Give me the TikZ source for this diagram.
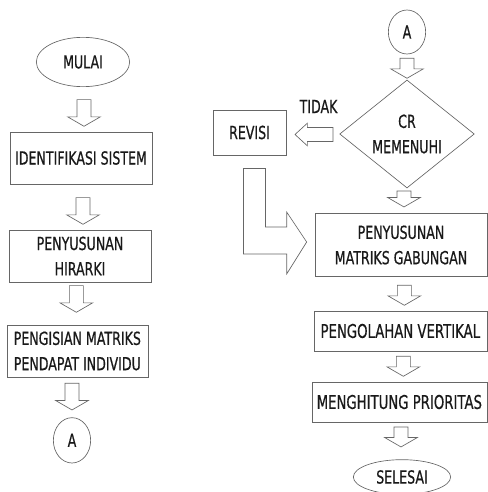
\documentclass[tikz,border=0pt]{standalone}
\usepackage{fontspec}
\setmainfont{DejaVu Sans}[FakeStretch=0.70, FakeBold=0.6]
\usepackage{tikz}
\usetikzlibrary{shapes.geometric, shapes.arrows, calc, positioning}
\newcommand{\flowfont}{\fontsize{13.5}{19}\selectfont}
\newcommand{\flowfontb}{\fontsize{14.2}{19}\selectfont}

\begin{document}
\begin{tikzpicture}[x=0.75pt, y=-0.75pt, node distance={72pt},
        line/.style = {draw=black!60, line width=0.5pt},
        term/.style = {line, ellipse, inner sep=0pt, text=black!90, font=\flowfont},
        conn/.style = {line, ellipse, minimum width=28pt, minimum height=33pt, inner sep=0pt, text=black!90, font=\flowfont},
        box/.style = {line, rectangle, minimum width=106.5pt, minimum height=39pt, inner sep=2pt, align=center, text=black!90, font=\flowfont},
        dec/.style = {line, diamond, aspect=1.25, minimum width=101pt, minimum height=81pt, inner sep=0pt, align=center, text=black!90, font=\flowfont},
        blk/.style = {line, single arrow, rotate=-90, anchor=tip, inner xsep=0pt, inner ysep=5pt, single arrow head extend=7pt, single arrow tip angle=120}]
        \useasboundingbox (0,0) rectangle (488,492);

        \node[term, minimum width=70pt, minimum height=37pt] (mulai) at (83,62) {MULAI};
        \node[box] (ident) [below of=mulai, xshift=-1.5pt] {IDENTIFIKASI SISTEM};
        \node[box] (hirarki) [below of=ident, xshift=-0.75pt, yshift=-1.5pt] {PENYUSUNAN\\HIRARKI};
        \node[box, minimum width=105.75pt] (isi) [below of=hirarki, xshift=-2pt, yshift=0.75pt] {PENGISIAN MATRIKS\\PENDAPAT INDIVIDU};
        \node[conn, minimum height=34pt] (ak) [below of=isi, xshift=-4pt, yshift=5pt] {A};

        \node[conn] (ar) at (407,32) {A};
        \node[dec] (cr) [below of=ar, yshift=-4.5pt] {CR\\MEMENUHI};
        \node[box, minimum width=55pt, minimum height=34pt] (revisi) at (249.5,132.5) {REVISI};
        \node[box, minimum width=129pt, minimum height=47pt] (pmg) [below of=cr, xshift=-4.5pt, yshift=-11.25pt] {PENYUSUNAN\\MATRIKS GABUNGAN};
        \node[box, minimum width=129.75pt, minimum height=30pt, font=\flowfontb] (pv) [below of=pmg, xshift=-0.5pt, yshift=7.5pt] {PENGOLAHAN VERTIKAL};
        \node[box, minimum width=131.25pt, minimum height=30pt, font=\flowfontb] (mp) [below of=pv, xshift=-0.75pt, yshift=18.75pt] {MENGHITUNG PRIORITAS};
        \node[term, minimum width=73pt, minimum height=26pt] (selesai) [below of=mp, xshift=2pt, yshift=15.75pt] {SELESAI};

        \node[blk, minimum height=20pt] (a1) at ($(ident.north)+(3,-5)$) {};
        \node[blk, minimum height=20pt] (a2) at ($(hirarki.north)+(3,-5)$) {};
        \node[blk, minimum height=20pt] (a3) at ($(isi.north)+(-1,-12)$) {};
        \node[blk, minimum height=20pt] (a4) at ($(ak.north)+(0,-7)$) {};

        \node[blk, minimum height=15pt] (a5) at ($(cr.north)+(0,-1)$) {};
        \node[blk, minimum height=12pt] (a6) at ($(pmg.north)+(3,-6)$) {};
        \node[blk, minimum height=15pt] (a7) at ($(pv.north)+(4,-5)$) {};
        \node[blk, minimum height=15pt] (a8) at ($(mp.north)+(4,-5)$) {};
        \node[blk, minimum height=15pt] (a9) at ($(selesai.north)+(-1,-12)$) {};

        \node[line, single arrow, rotate=180, anchor=tip, inner xsep=0pt, inner ysep=5pt, single arrow head extend=3.25pt, single arrow tip angle=85, minimum height=28.5pt] (atidak) at ($(revisi.east)+(8,2)$) {};
        \node[text=black!90, font=\flowfont] (tidak) at ($(atidak.tip)+(24,-28)$) {TIDAK};

        \coordinate (lt) at ($(revisi.south)+(-6,13)$);
        \coordinate (lp) at ($(pmg.west)+(-8,-3)$);
        \draw[line] (lt) -- ++(22,0) |- ($(lp)+(-20,-15)$) -- ++(0,-15) -- (lp) -- ++(-20,32) -- ++(0,-20) -- ($(lt |- lp)+(0,12)$) -- cycle;
    \end{tikzpicture}
\end{document}
